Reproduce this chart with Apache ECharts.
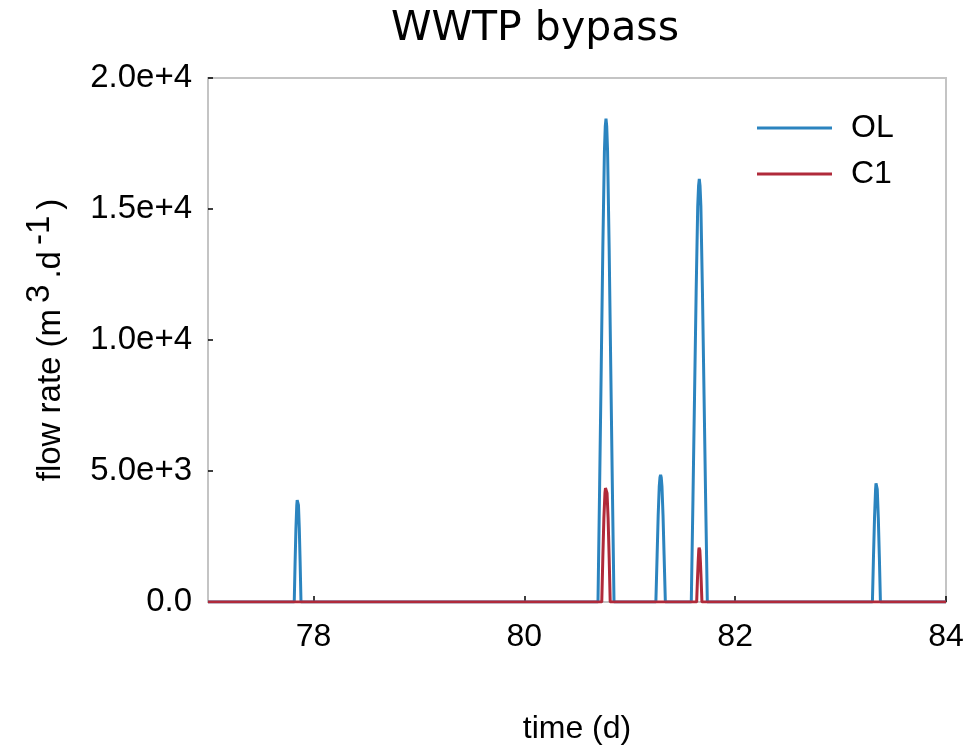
<!DOCTYPE html>
<html>
<head>
<meta charset="utf-8">
<script src="https://cdn.jsdelivr.net/npm/echarts@6/dist/echarts.min.js"></script>
<style>html,body{margin:0;padding:0;background:#fff;}#c{width:967px;height:747px;}</style>
</head>
<body>
<div id="c"></div>
<script>
// time (d) and flow rate (m3/d) samples
const olTime = [77.0,
  77.818, 77.826, 77.834, 77.842, 77.846, 77.85, 77.854, 77.858, 77.866, 77.874, 77.882,
  80.699, 80.715, 80.730, 80.745, 80.760, 80.768, 80.775, 80.782, 80.790, 80.805, 80.820, 80.835, 80.851,
  81.248, 81.260, 81.270, 81.280, 81.287, 81.293, 81.299, 81.306, 81.316, 81.326, 81.338,
  81.584, 81.600, 81.615, 81.630, 81.645, 81.653, 81.660, 81.667, 81.675, 81.690, 81.705, 81.720, 81.736,
  83.302, 83.312, 83.322, 83.332, 83.336, 83.340, 83.344, 83.348, 83.358, 83.368, 83.378,
  84.0];
const olFlow = [0,
  0, 1500, 2800, 3700, 3890, 3950, 3890, 3700, 2800, 1500, 0,
  0, 4500, 9000, 13500, 17200, 18150, 18450, 18150, 17200, 13500, 9000, 4500, 0,
  0, 1800, 3300, 4400, 4760, 4850, 4760, 4400, 3300, 1800, 0,
  0, 3950, 7900, 11800, 15100, 15880, 16150, 15880, 15100, 11800, 7900, 3950, 0,
  0, 1700, 3200, 4300, 4530, 4600, 4530, 4300, 3200, 1700, 0,
  0];
const c1Time = [77.0,
  80.735, 80.745, 80.755, 80.765, 80.770, 80.775, 80.780, 80.785, 80.795, 80.805, 80.815,
  81.635, 81.642, 81.649, 81.655, 81.658, 81.660, 81.662, 81.665, 81.671, 81.678, 81.685,
  84.0];
const c1Flow = [0,
  0, 1700, 3200, 4150, 4350, 4420, 4350, 4150, 3200, 1700, 0,
  0, 800, 1500, 1980, 2070, 2100, 2070, 1980, 1500, 800, 0,
  0];
const xTicks = [78, 80, 82, 84];
const yTicks = [0, 5000, 10000, 15000, 20000];
const yTickLabels = ['0.0', '5.0e+3', '1.0e+4', '1.5e+4', '2.0e+4'];
const seriesNames = ['OL', 'C1'];

const pairs = (t, v) => t.map((x, i) => [x, v[i]]);
const font = 'Liberation Sans, Arial, sans-serif';
const FS = 32;

const chart = echarts.init(document.getElementById('c'), null, {renderer: 'canvas'});
chart.setOption({
  backgroundColor: '#ffffff',
  animation: false,
  title: {
    text: 'WWTP bypass',
    left: 530, top: 4, textAlign: 'center',
    textStyle: {fontFamily: 'DejaVu Sans', fontSize: 41, fontWeight: 'normal', color: '#000'}
  },
  legend: {
    orient: 'vertical', left: 757, top: 112, padding: 0,
    icon: 'rect', itemWidth: 75, itemHeight: 3, itemGap: 14,
    data: seriesNames,
    textStyle: {fontFamily: font, fontSize: FS, color: '#000', padding: [0, 0, 0, 14]}
  },
  grid: {
    left: 208, right: 21, top: 78, bottom: 145,
    outerBoundsMode: 'none', containLabel: false,
    show: true, borderColor: '#c4c4c4', borderWidth: 2, backgroundColor: 'transparent'
  },
  xAxis: {
    type: 'value', min: 77, max: 84,
    name: 'time (d)', nameLocation: 'middle', nameGap: 111,
    nameTextStyle: {fontFamily: font, fontSize: FS, color: '#000'},
    axisLine: {show: false},
    splitLine: {show: false},
    axisTick: {show: true, inside: true, length: 6, customValues: xTicks, lineStyle: {color: '#000', width: 1.5}},
    axisLabel: {customValues: xTicks, fontFamily: font, fontSize: FS, color: '#000', margin: 19}
  },
  yAxis: {
    type: 'value', min: 0, max: 20000, interval: 5000,
    name: 'flow rate (m{sup|3}.d{sup|-1})', nameLocation: 'middle', nameGap: 130, nameRotate: 90,
    nameTextStyle: {
      fontFamily: font, fontSize: 33, color: '#000', verticalAlign: 'bottom',
      rich: {sup: {fontFamily: font, fontSize: 33, color: '#000', verticalAlign: 'bottom', padding: [0, 6, 22, 6]}}
    },
    axisLine: {show: false},
    splitLine: {show: false},
    axisTick: {show: true, inside: true, length: 5, lineStyle: {color: '#000', width: 1.5}},
    axisLabel: {
      fontFamily: font, fontSize: 33, color: '#000', margin: 16,
      formatter: v => yTickLabels[yTicks.indexOf(v)]
    }
  },
  series: [
    {name: seriesNames[0], type: 'line', data: pairs(olTime, olFlow), symbol: 'none', smooth: false,
     lineStyle: {color: '#2b84bf', width: 3}, itemStyle: {color: '#2b84bf'}},
    {name: seriesNames[1], type: 'line', data: pairs(c1Time, c1Flow), symbol: 'none', smooth: false,
     lineStyle: {color: '#b02a3a', width: 3}, itemStyle: {color: '#b02a3a'}}
  ]
});
</script>
</body>
</html>
